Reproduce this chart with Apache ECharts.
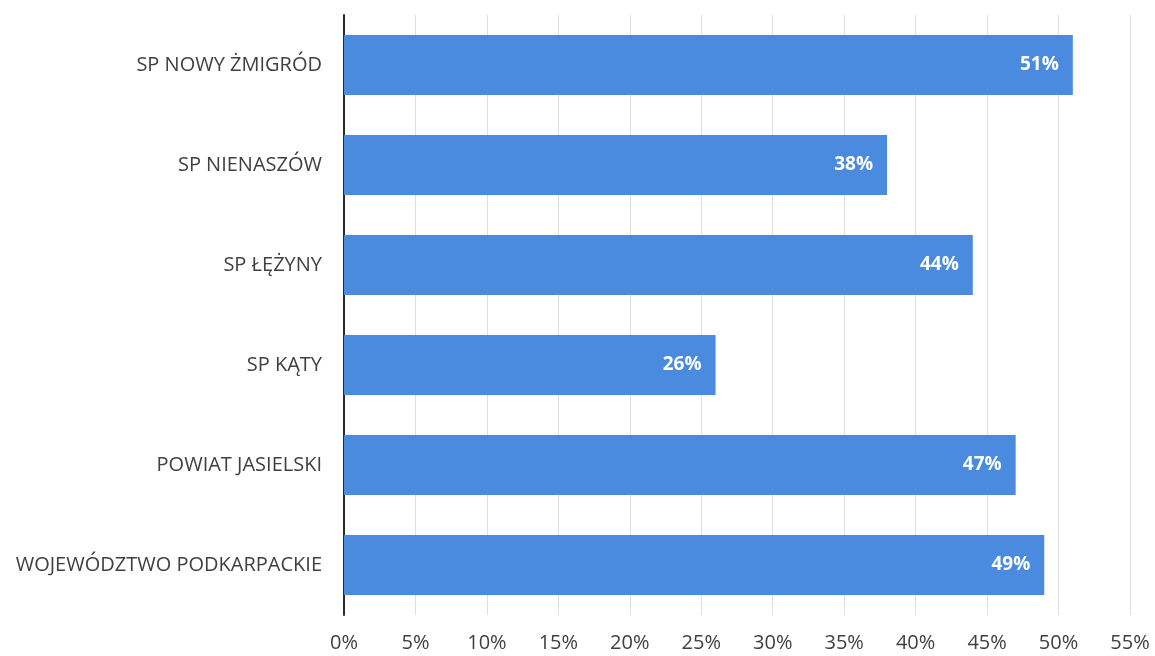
<!DOCTYPE html>
<html><head><meta charset="utf-8">
<script src="https://cdn.jsdelivr.net/npm/echarts@6/dist/echarts.min.js"></script>
<style>html,body{margin:0;padding:0;background:#fff}#c{width:1155px;height:656px}</style>
</head><body><div id="c"></div>
<script>
const categories = ['SP NOWY ŻMIGRÓD','SP NIENASZÓW','SP ŁĘŻYNY','SP KĄTY','POWIAT JASIELSKI','WOJEWÓDZTWO PODKARPACKIE'];
const values = [51, 38, 44, 26, 47, 49];
const xTicks = [0,5,10,15,20,25,30,35,40,45,50,55];
const font = 'Open Sans';
const chart = echarts.init(document.getElementById('c'));
chart.setOption({
  animation:false,
  grid:{left:344, right:25, top:15, bottom:41},
  xAxis:{type:'value', min:xTicks[0], max:xTicks[xTicks.length-1], interval:xTicks[1]-xTicks[0],
    axisLine:{show:false}, axisTick:{show:false},
    splitLine:{show:true, lineStyle:{color:'#dedede', width:1}},
    axisLabel:{formatter:v=>v+'%', color:'#404040', fontSize:20, fontFamily:font, margin:18}},
  yAxis:{type:'category', data:categories, inverse:true,
    axisLine:{show:true, lineStyle:{color:'#2a2a2a', width:2}},
    axisTick:{show:false},
    axisLabel:{color:'#404040', fontSize:20, fontFamily:font, margin:22}},
  series:[{type:'bar', data:values, barCategoryGap:'40%',
    itemStyle:{color:'#4a8be0'},
    label:{show:true, position:'insideRight', formatter:p=>p.value+'%', color:'#fff',
      fontWeight:'bold', fontSize:19, fontFamily:font, distance:14}}]
});
</script></body></html>
